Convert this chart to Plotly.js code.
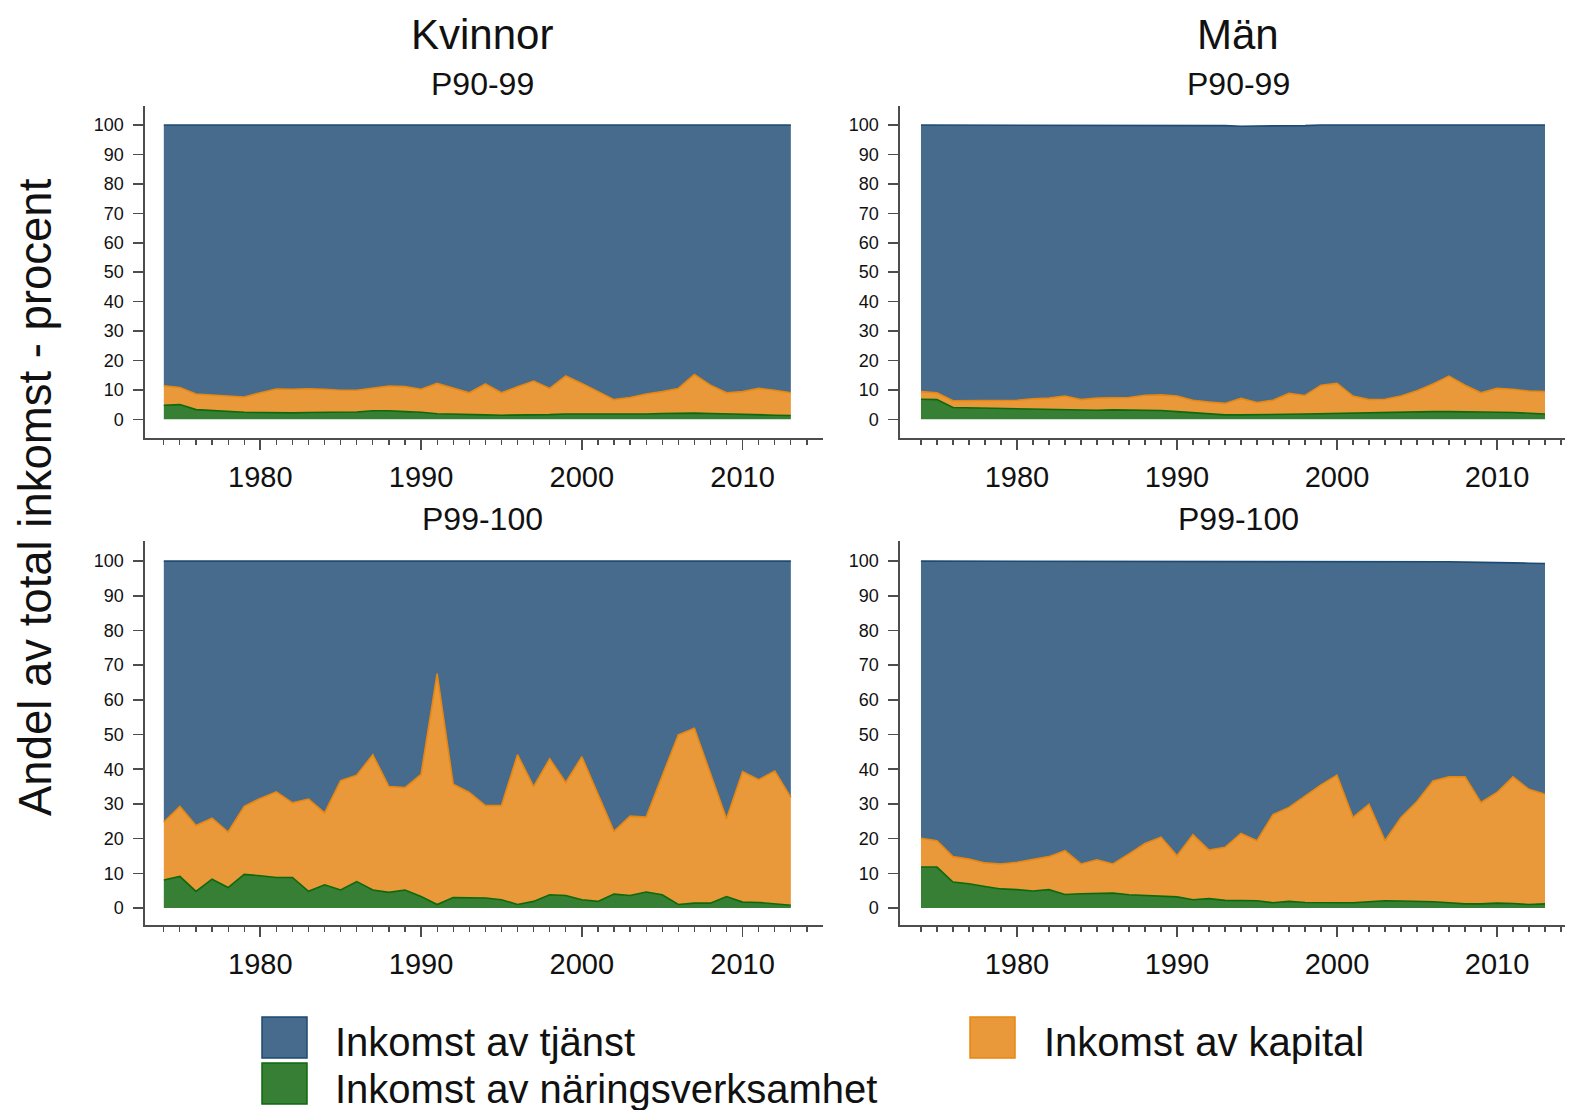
<!DOCTYPE html>
<html><head><meta charset="utf-8">
<script src="https://cdn.plot.ly/plotly-3.0.1.min.js"></script>
<style>html,body{margin:0;padding:0;background:#fff}#chart{width:1575px;height:1110px}</style>
</head><body><div id="chart"></div>
<script>
const years = [1974,1975,1976,1977,1978,1979,1980,1981,1982,1983,
               1984,1985,1986,1987,1988,1989,1990,1991,1992,1993,
               1994,1995,1996,1997,1998,1999,2000,2001,2002,2003,
               2004,2005,2006,2007,2008,2009,2010,2011,2012,2013];

const seriesNames = ['Inkomst av tjänst','Inkomst av kapital','Inkomst av näringsverksamhet'];
const columnTitles = ['Kvinnor','Män'];
const rowTitles = ['P90-99','P99-100'];
const yAxisTitle = 'Andel av total inkomst - procent';
const xTickVals = [1980,1990,2000,2010];
const yTickVals = [0,10,20,30,40,50,60,70,80,90,100];

// Kvinnor P90-99
const kvP90_naring  = [4.8,5.0,3.3,3.0,2.6,2.4,2.3,2.2,2.2,2.3, 2.4,2.4,2.5,2.9,2.9,2.6,2.4,1.9,1.7,1.6, 1.5,1.4,1.4,1.5,1.6,1.8,1.8,1.7,1.6,1.7, 1.8,2.0,2.1,2.1,2.0,1.8,1.6,1.5,1.4,1.3];
const kvP90_kapital = [6.6,5.8,5.3,5.3,5.5,5.2,6.7,8.1,8.0,8.1, 7.8,7.5,7.4,7.7,8.4,8.5,7.8,10.3,8.8,7.4, 10.5,7.6,9.7,11.5,8.9,12.9,10.4,7.7,5.1,5.7, 6.8,7.4,8.4,13.1,9.6,7.2,7.8,9.0,8.5,7.7];
const kvP90_tjanst  = [88.6,89.2,91.4,91.7,91.9,92.4,91.0,89.7,89.8,89.6, 89.8,90.1,90.1,89.4,88.7,88.9,89.8,87.8,89.5,91.0, 88.0,91.0,88.9,87.0,89.5,85.3,87.8,90.6,93.3,92.6, 91.4,90.6,89.5,84.8,88.4,91.0,90.6,89.5,90.1,91.0];

// Män P90-99
const maP90_naring  = [6.8,6.7,4.0,3.9,3.8,3.7,3.4,3.3,3.2,3.1, 3.2,3.1,3.2,3.1,3.1,3.0,2.6,2.2,1.7,1.5, 1.5,1.5,1.6,1.7,1.8,1.9,2.1,2.3,2.4,2.4, 2.4,2.5,2.6,2.6,2.6,2.5,2.4,2.3,2.1,1.8];
const maP90_kapital = [2.6,2.3,2.3,2.4,2.5,2.6,3.1,3.7,4.0,4.8, 3.5,4.1,4.1,4.3,5.1,5.3,5.3,4.3,4.2,3.9, 5.6,4.2,4.9,7.1,6.3,9.7,10.1,5.6,4.3,4.4, 5.5,7.2,9.4,12.1,9.0,6.5,8.1,7.9,7.5,7.6];
const maP90_tjanst  = [90.6,91.0,93.7,93.7,93.7,93.7,93.5,93.0,92.8,92.1, 93.3,92.8,92.7,92.6,91.8,91.7,92.1,93.5,94.1,94.4, 92.5,93.9,93.1,90.9,91.7,88.4,87.8,92.1,93.3,93.2, 92.1,90.3,88.0,85.3,88.4,91.0,89.5,89.8,90.4,90.6];

// Kvinnor P99-100
const kvP99_naring  = [8.1,9.1,4.8,8.3,5.9,9.7,9.3,8.8,8.8,4.8, 6.7,5.2,7.6,5.2,4.5,5.2,3.3,1.0,3.0,3.0, 2.9,2.4,1.0,1.9,3.8,3.6,2.4,1.9,4.0,3.6, 4.6,3.8,1.0,1.4,1.4,3.3,1.7,1.6,1.1,0.8];
const kvP99_kapital = [16.7,20.2,19.0,17.6,16.0,19.6,22.3,24.7,21.5,26.6, 20.7,31.5,30.7,39.0,30.5,29.5,35.2,66.6,32.7,30.3, 26.6,27.1,43.2,33.1,39.2,32.6,41.2,30.7,18.1,22.9, 21.6,34.3,48.9,50.4,37.5,22.4,37.6,35.4,38.4,31.1];
const kvP99_tjanst  = [75.2,70.7,76.2,74.1,78.1,70.7,68.4,66.5,69.7,68.6, 72.6,63.3,61.7,55.8,65.0,65.3,61.5,32.4,64.3,66.7, 70.5,70.5,55.8,65.0,57.0,63.8,56.4,67.4,77.9,73.5, 73.8,61.9,50.1,48.2,61.1,74.3,60.7,63.0,60.5,68.1];

// Män P99-100
const maP99_naring  = [11.8,11.8,7.5,7.0,6.2,5.5,5.3,4.9,5.3,3.9, 4.1,4.3,4.3,3.8,3.6,3.5,3.2,2.4,2.7,2.2, 2.1,2.1,1.5,1.9,1.6,1.5,1.5,1.5,1.8,2.1, 2.0,2.0,1.8,1.5,1.2,1.2,1.4,1.3,1.0,1.2];
const maP99_kapital = [8.3,7.6,7.3,7.1,6.8,7.2,7.9,9.2,9.5,12.6, 8.6,9.6,8.4,11.8,15.0,16.9,11.9,18.7,14.0,15.3, 19.4,17.3,25.4,27.1,30.7,34.0,36.8,24.6,28.1,17.3, 24.1,28.7,34.8,36.3,36.6,29.2,31.9,36.5,33.2,31.6];
const maP99_tjanst  = [79.9,80.6,85.2,85.9,87.0,87.3,86.8,85.9,85.2,83.5, 87.3,86.1,87.3,84.4,81.4,79.6,84.9,78.9,83.3,82.5, 78.5,80.6,73.1,71.0,67.7,64.5,61.7,73.9,70.1,80.6, 73.9,69.2,63.3,62.0,61.9,69.3,66.3,61.7,65.2,66.5];

const FONT = 'Liberation Sans, Arial, Helvetica, sans-serif';
const fills = ['#476b8d','#e9983a','#367f35'];
const lines = ['#1d4a72','#e8870f','#0c690c'];
const W = 1575, H = 1110;
const px = v => v / W;
const py = v => (H - v) / H;

const panels = [
  {ax:'', data:[kvP90_tjanst,kvP90_kapital,kvP90_naring]},
  {ax:'2', data:[maP90_tjanst,maP90_kapital,maP90_naring]},
  {ax:'3', data:[kvP99_tjanst,kvP99_kapital,kvP99_naring]},
  {ax:'4', data:[maP99_tjanst,maP99_kapital,maP99_naring]}
];

const traces = [];
panels.forEach((p, i) => {
  [2,1,0].forEach(k => {
    traces.push({
      type:'scatter', mode:'lines', x: years, y: p.data[k],
      xaxis:'x'+p.ax, yaxis:'y'+p.ax, stackgroup:'g'+i,
      name: seriesNames[k], showlegend:false, hoverinfo:'skip',
      line:{color:lines[k], width:1.6}, fillcolor:fills[k]
    });
  });
});

const minorVals = [];
for (let t = 1974; t <= 2014; t++) minorVals.push(t);

function xAxis(domain, range) {
  return {domain, range, showgrid:false, zeroline:false, showline:true,
    linecolor:'#4d4d4d', linewidth:1.6, ticks:'outside', ticklen:10, tickwidth:1.6, tickcolor:'#4d4d4d',
    tickmode:'array', tickvals:xTickVals, ticktext:xTickVals.map(String),
    ticklabelstandoff:3,
    tickfont:{family:FONT, size:29, color:'#111'},
    minor:{tickmode:'array', tickvals:minorVals, ticks:'outside', ticklen:5, tickwidth:1.2, tickcolor:'#4d4d4d'},
    fixedrange:true};
}
function yAxis(domain, range, anchor) {
  return {domain, range, anchor, showgrid:false, zeroline:false, showline:true,
    linecolor:'#4d4d4d', linewidth:1.6, ticks:'outside', ticklen:10, tickwidth:1.6, tickcolor:'#4d4d4d',
    tickmode:'array', tickvals:yTickVals, ticktext:yTickVals.map(String),
    ticklabelstandoff:6,
    tickfont:{family:FONT, size:18, color:'#111'}, fixedrange:true};
}

const xL = [px(145), px(823)], xR = [px(900), px(1565)];
const yT = [py(438), py(106)], yB = [py(925), py(541)];
const rangeL = [1972.83, 2015.0], rangeR = [1972.69, 2014.25];
const rangeYT = [-6.35, 106.46], rangeYB = [-4.9, 105.8];

const layout = {
  width:W, height:H, margin:{l:0,r:0,t:0,b:0},
  paper_bgcolor:'#fff', plot_bgcolor:'rgba(0,0,0,0)',
  font:{family:FONT, color:'#111'},
  showlegend:false,
  xaxis: Object.assign(xAxis(xL, rangeL), {anchor:'y'}),
  yaxis: yAxis(yT, rangeYT, 'x'),
  xaxis2: Object.assign(xAxis(xR, rangeR), {anchor:'y2'}),
  yaxis2: yAxis(yT, rangeYT, 'x2'),
  xaxis3: Object.assign(xAxis(xL, rangeL), {anchor:'y3'}),
  yaxis3: yAxis(yB, rangeYB, 'x3'),
  xaxis4: Object.assign(xAxis(xR, rangeR), {anchor:'y4'}),
  yaxis4: yAxis(yB, rangeYB, 'x4'),
  shapes: [
    {type:'rect', xref:'paper', yref:'paper', x0:px(262), x1:px(307), y0:py(1058), y1:py(1017), fillcolor:fills[0], line:{color:lines[0], width:1.5}},
    {type:'rect', xref:'paper', yref:'paper', x0:px(970), x1:px(1015), y0:py(1058), y1:py(1017), fillcolor:fills[1], line:{color:lines[1], width:1.5}},
    {type:'rect', xref:'paper', yref:'paper', x0:px(262), x1:px(307), y0:py(1104), y1:py(1063), fillcolor:fills[2], line:{color:lines[2], width:1.5}}
  ],
  annotations: [
    {text:columnTitles[0], x:px(482), y:py(34), xref:'paper', yref:'paper', showarrow:false, xanchor:'center', yanchor:'middle', font:{size:42, family:FONT, color:'#111'}},
    {text:columnTitles[1], x:px(1238), y:py(34), xref:'paper', yref:'paper', showarrow:false, xanchor:'center', yanchor:'middle', font:{size:42, family:FONT, color:'#111'}},
    {text:rowTitles[0], x:px(482), y:py(84), xref:'paper', yref:'paper', showarrow:false, xanchor:'center', yanchor:'middle', font:{size:32, family:FONT, color:'#111'}},
    {text:rowTitles[0], x:px(1238), y:py(84), xref:'paper', yref:'paper', showarrow:false, xanchor:'center', yanchor:'middle', font:{size:32, family:FONT, color:'#111'}},
    {text:rowTitles[1], x:px(482), y:py(519), xref:'paper', yref:'paper', showarrow:false, xanchor:'center', yanchor:'middle', font:{size:32, family:FONT, color:'#111'}},
    {text:rowTitles[1], x:px(1238), y:py(519), xref:'paper', yref:'paper', showarrow:false, xanchor:'center', yanchor:'middle', font:{size:32, family:FONT, color:'#111'}},
    {text:yAxisTitle, x:px(35), y:py(497), xref:'paper', yref:'paper', showarrow:false, textangle:-90, xanchor:'center', yanchor:'middle', font:{size:45.5, family:FONT, color:'#111'}},
    {text:seriesNames[0], x:px(333), y:py(1042), xref:'paper', yref:'paper', showarrow:false, xanchor:'left', yanchor:'middle', font:{size:40, family:FONT, color:'#111'}},
    {text:seriesNames[1], x:px(1042), y:py(1042), xref:'paper', yref:'paper', showarrow:false, xanchor:'left', yanchor:'middle', font:{size:40, family:FONT, color:'#111'}},
    {text:seriesNames[2], x:px(333), y:py(1089), xref:'paper', yref:'paper', showarrow:false, xanchor:'left', yanchor:'middle', font:{size:40, family:FONT, color:'#111'}}
  ]
};

Plotly.newPlot('chart', traces, layout, {displayModeBar:false, staticPlot:true});
</script>
</body></html>
